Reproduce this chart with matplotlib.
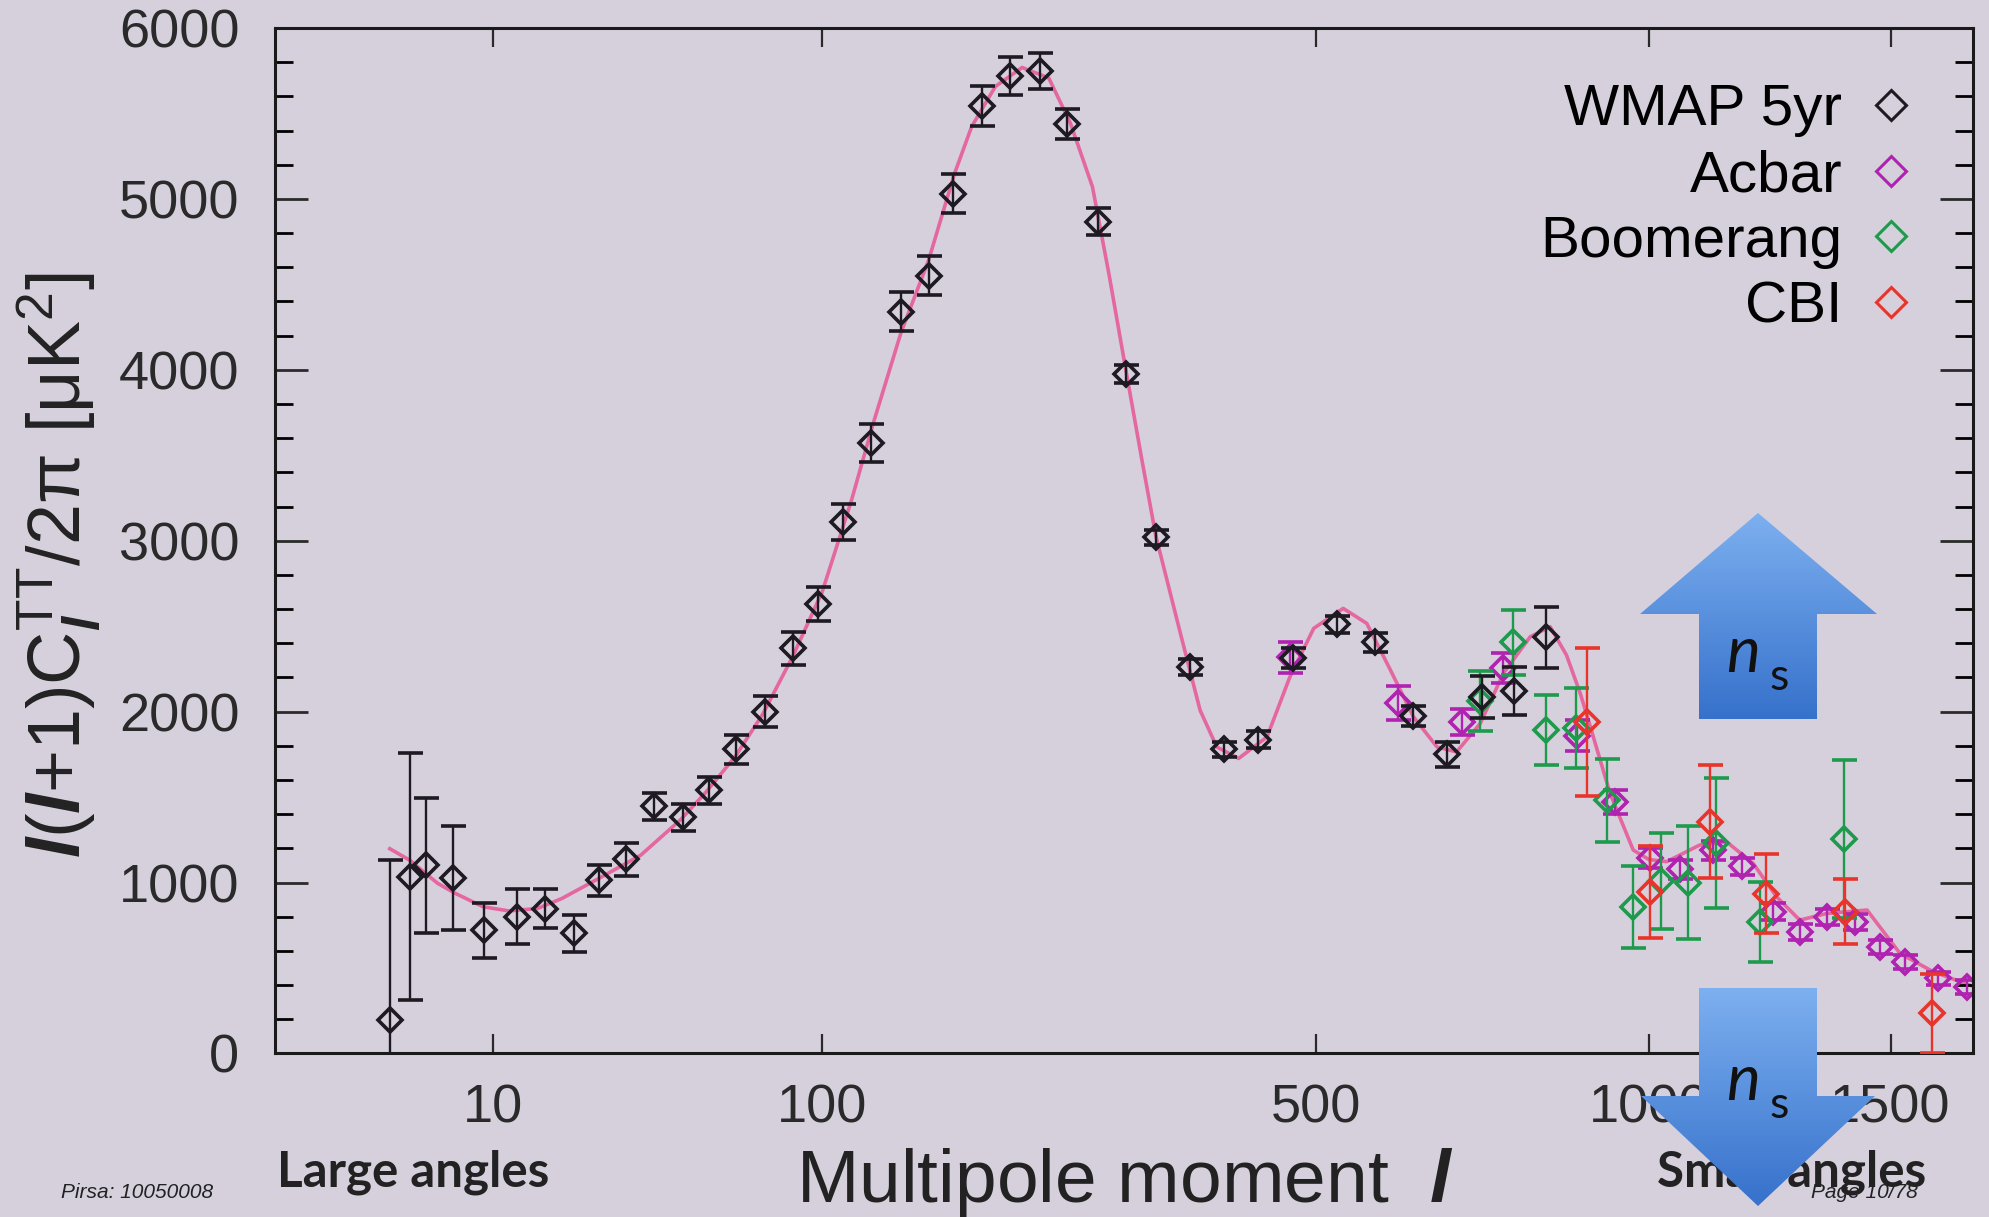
import numpy as np
import matplotlib.pyplot as plt
from matplotlib.lines import Line2D
from matplotlib.patches import Polygon
from matplotlib.colors import LinearSegmentedColormap
from matplotlib.ticker import MultipleLocator

plt.rcParams['font.family'] = ['Liberation Sans', 'DejaVu Sans']
plt.rcParams['mathtext.fontset'] = 'custom'
plt.rcParams['mathtext.rm'] = 'Liberation Sans'
plt.rcParams['mathtext.it'] = 'Liberation Sans:italic:bold'
plt.rcParams['mathtext.bf'] = 'Liberation Sans:bold'

# WMAP 5yr binned TT spectrum
wmap_l = [2, 3, 4, 6, 9, 13, 17, 22, 27, 33, 40, 48, 56, 65, 76, 87, 98, 110, 124,
          140, 156, 171, 190, 209, 231, 252, 278, 302, 329, 362, 396, 433, 473,
          525, 573, 624, 672, 724, 773, 823]
wmap_d = [195, 1035, 1100, 1028, 720, 800, 848, 702, 1013, 1136, 1446, 1381, 1540,
          1780, 2000, 2370, 2630, 3110, 3570, 4340, 4550, 5031, 5544, 5718, 5748,
          5438, 4866, 3975, 3020, 2260, 1780, 1835, 2315, 2510, 2405, 1975, 1750,
          2085, 2120, 2435]
wmap_e = [935, 720, 395, 305, 160, 162, 113, 107, 90, 95, 80, 80, 80, 85, 90, 95,
          100, 105, 110, 115, 115, 114, 116, 112, 105, 90, 78, 55, 45, 45, 45, 50,
          60, 50, 55, 60, 75, 125, 140, 180]

# Acbar
acbar_l = [469, 604, 694, 756, 875, 940, 1002, 1058, 1121, 1178, 1242, 1298,
           1356, 1419, 1476, 1533, 1612, 1684]
acbar_d = [2318, 2050, 1940, 2255, 1860, 1470, 1143, 1077, 1189, 1096, 829, 710,
           798, 770, 624, 535, 439, 388]
acbar_e = [90, 100, 75, 90, 90, 70, 60, 55, 55, 50, 50, 45, 45, 45, 40, 40, 40, 40]

# Boomerang
boom_l = [720, 771, 824, 873, 925, 972, 1023, 1073, 1127, 1216, 1394]
boom_d = [2060, 2407, 1893, 1905, 1480, 857, 1010, 1000, 1230, 770, 1255]
boom_e = [175, 190, 205, 235, 240, 238, 280, 330, 380, 235, 460]

# CBI
cbi_l = [892, 1002, 1115, 1228, 1397, 1597]
cbi_d = [1940, 945, 1355, 935, 830, 235]
cbi_e = [435, 270, 330, 230, 190, 230]

# best-fit LCDM curve
model_l = [2, 3, 4.8, 6.2, 8.9, 11.9, 15.9, 19.9, 27.5, 36.5, 47.2, 54.7, 65, 75,
           87, 100, 114, 125, 140, 156, 172, 183, 199, 218, 238, 255, 273, 287,
           302, 316, 329, 352, 372, 389, 412, 443, 469, 497, 533, 563, 594, 625,
           658, 686, 721, 756, 798, 830, 857, 880, 897, 931, 972, 1000, 1033, 1095,
           1148, 1201, 1249, 1298, 1356, 1446, 1522, 1601, 1691, 1720]
model_d = [1198, 1130, 995, 937, 858, 834, 848, 907, 1033, 1160, 1366, 1522, 1740,
           1985, 2320, 2700, 3238, 3686, 4216, 4641, 5149, 5423, 5658, 5769, 5707,
           5442, 5071, 4560, 3990, 3480, 3030, 2470, 2008, 1793, 1726, 1852, 2203,
           2487, 2604, 2516, 2243, 1970, 1793, 1764, 1931, 2224, 2438, 2497, 2330,
           2106, 1912, 1522, 1190, 1135, 1122, 1219, 1238, 1112, 917, 780, 819, 839,
           585, 478, 399, 380]

xticks = [10, 100, 500, 1000, 1500]
xticklabels = ['10', '100', '500', '1000', '1500']
names = ['WMAP 5yr', 'Acbar', 'Boomerang', 'CBI']
colors = ['#1e1a22', '#b022b0', '#1e9a4c', '#e8342a']

bg = '#d6d0dd'
fig = plt.figure(figsize=(19.9, 12.17), dpi=100, facecolor=bg)
ax = fig.add_axes([0.1384, 0.1344, 0.8533, 0.8426], facecolor=bg)

ax.set_xscale('function', functions=(lambda l: np.sign(l) * np.abs(l) ** 0.4,
                                     lambda u: np.sign(u) * np.abs(u) ** 2.5))
ax.set_xlim(0, 1700)
ax.set_ylim(0, 6000)

ax.plot(model_l, model_d, color='#e4679f', lw=2.6, zorder=1)

sets = [(acbar_l, acbar_d, acbar_e, colors[1]),
        (boom_l, boom_d, boom_e, colors[2]),
        (cbi_l, cbi_d, cbi_e, colors[3]),
        (wmap_l, wmap_d, wmap_e, colors[0])]
for i, (l, d, e, c) in enumerate(sets):
    ax.errorbar(l, d, yerr=e, fmt='D', mfc='none', mec=c, ecolor=c, ms=12,
                mew=2.6, elinewidth=1.7, capsize=9, capthick=2.4, zorder=2 + i)

handles = [Line2D([], [], ls='none', marker='D', mfc='none', mec=c, ms=15, mew=2.2)
           for c in colors]
ax.legend(handles, names, loc='upper right', bbox_to_anchor=(0.9685, 0.946),
          markerfirst=False, frameon=False, fontsize=42, handlelength=1.0,
          handletextpad=0.33, labelspacing=0.2, borderpad=0, borderaxespad=0)

ax.set_xticks(xticks)
ax.set_xticklabels(xticklabels)
ax.set_yticks(range(0, 6001, 1000))
ax.yaxis.set_minor_locator(MultipleLocator(200))
ax.xaxis.set_minor_locator(plt.NullLocator())
ax.tick_params(axis='x', which='major', direction='in', length=14, width=1.6,
               top=True, bottom=True, pad=22, labelsize=39, colors='#2a2a2a')
ax.tick_params(axis='y', which='major', direction='in', length=24, width=2,
               left=True, right=True, pad=26, labelsize=39, colors='#2a2a2a')
ax.tick_params(axis='y', which='minor', direction='in', length=13, width=2,
               left=True, right=True)
for s in ax.spines.values():
    s.set_linewidth(2.2)
    s.set_color('#1a1a1a')

ax.set_xlabel(r'Multipole moment  $l$', fontsize=54, color='#222')
ax.xaxis.label.set_va('center')
ax.xaxis.set_label_coords(0.5, -0.126)
ax.set_ylabel(r'$l(l$+1)C$_l^{\rm TT}$/2π [μK$^2$]', fontsize=53, color='#222')
ax.yaxis.label.set_va('center')
ax.yaxis.set_label_coords(-0.1275, 0.476)

# overlay in pixel coordinates for slide decorations
ov = fig.add_axes([0, 0, 1, 1], zorder=5)
ov.set_axis_off()
ov.patch.set_alpha(0)
grad = np.linspace(0, 1, 256).reshape(-1, 1)
blues = LinearSegmentedColormap.from_list('arrow', ['#7db0f0', '#3671cb'])


def block_arrow(verts, y0, y1):
    poly = Polygon(verts, closed=True, facecolor='none', edgecolor='none')
    ov.add_patch(poly)
    xs = [v[0] for v in verts]
    im = ov.imshow(grad, cmap=blues, aspect='auto', origin='upper',
                   extent=(min(xs), max(xs), y1, y0), zorder=2)
    im.set_clip_path(poly)


block_arrow([(1758, 513), (1877, 614), (1817, 614), (1817, 719), (1699, 719),
             (1699, 614), (1640, 614)], 513, 719)
block_arrow([(1699, 988), (1817, 988), (1817, 1096), (1875, 1096), (1758, 1206),
             (1641, 1096), (1699, 1096)], 988, 1206)
for y in (654, 1082):
    ov.text(1743, y, 'n', family='Lato', style='italic', fontsize=46,
            ha='center', va='center', color='#111', zorder=3)
    ov.text(1779, y + 24, 's', family='Lato', fontsize=32,
            ha='center', va='center', color='#111', zorder=3)

ov.text(277, 1172, 'Large angles', family='Lato', weight='bold', fontsize=35.5,
        ha='left', va='center', color='#222', zorder=1)
ov.text(1657, 1172, 'Small angles', family='Lato', weight='bold', fontsize=35.5,
        ha='left', va='center', color='#222', zorder=1)
ov.text(61, 1193, 'Pirsa: 10050008', style='italic', fontsize=15,
        ha='left', va='center', color='#222', zorder=4)
ov.text(1811, 1193, 'Page 10/78', style='italic', fontsize=15,
        ha='left', va='center', color='#222', zorder=4)
ov.set_xlim(0, 1990)
ov.set_ylim(1217, 0)

fig.savefig('out.png', dpi=100, facecolor=bg)
